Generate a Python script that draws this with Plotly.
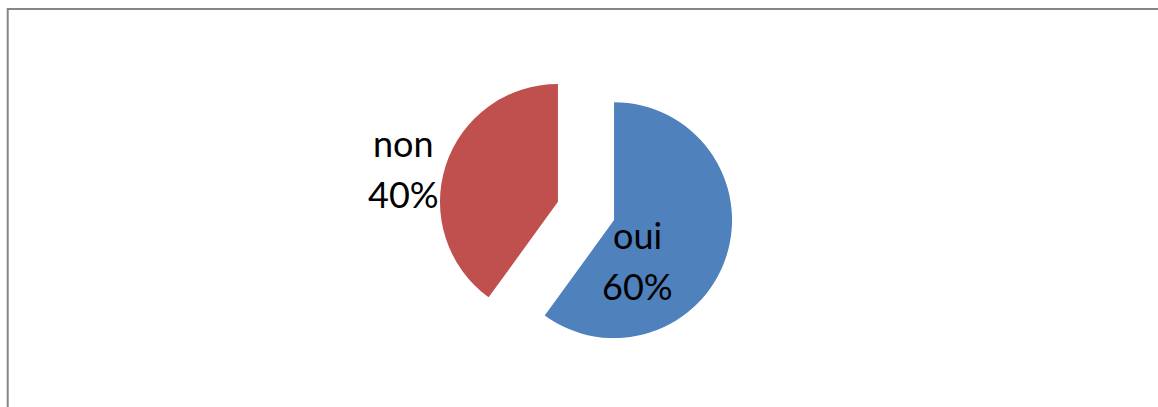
import plotly.graph_objects as go

labels = ["oui", "non"]
values = [60, 40]
colors = ["#4F81BD", "#C0504D"]

W, H = 1158, 407

fig = go.Figure(
    go.Pie(
        labels=labels,
        values=values,
        marker=dict(colors=colors, line=dict(width=0)),
        textinfo="none",
        pull=[0.25, 0.25],
        direction="clockwise",
        rotation=0,
        sort=False,
        showlegend=False,
        hoverinfo="label+percent",
        domain=dict(x=[0.3787, 0.6334], y=[0.1192, 0.844]),
    )
)

# data labels: category name on one line, share on the next
total = sum(values)
label_anchor_px = {"oui": (637, 235), "non": (403, 143)}  # centre of first line
line_gap = 51
font = dict(family="Lato", size=36, color="#000000")
for lab, val in zip(labels, values):
    x_px, y_px = label_anchor_px[lab]
    lines = [lab, f"{round(100 * val / total)}%"]
    for i, line in enumerate(lines):
        fig.add_annotation(
            text=line, xref="paper", yref="paper",
            x=x_px / W, y=1 - (y_px + i * line_gap) / H,
            xanchor="center", yanchor="middle",
            showarrow=False, font=font,
        )

# chart-area frame (top and left edges)
frame = dict(color="#868686", width=2)
fig.add_shape(type="line", xref="paper", yref="paper",
              x0=7.7 / W, x1=1.0, y0=1 - 9 / H, y1=1 - 9 / H, line=frame)
fig.add_shape(type="line", xref="paper", yref="paper",
              x0=7.7 / W, x1=7.7 / W, y0=0, y1=1 - 8 / H, line=frame)

fig.update_layout(
    width=W,
    height=H,
    margin=dict(l=0, r=0, t=0, b=0),
    paper_bgcolor="#FFFFFF",
    plot_bgcolor="#FFFFFF",
)

fig.write_html("out.html")
